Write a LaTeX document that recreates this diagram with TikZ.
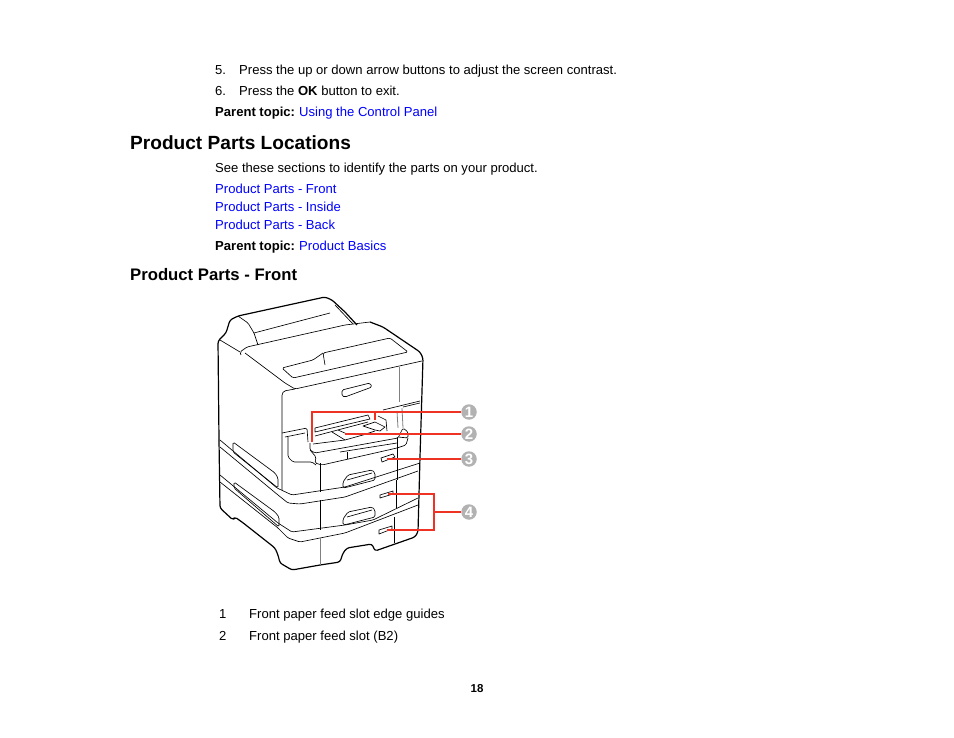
\documentclass[tikz,border=0pt]{standalone}
\usepackage{fontspec}
\setmainfont{Liberation Sans}
\definecolor{linkblue}{RGB}{0,0,255}
\definecolor{leader}{RGB}{238,50,36}
\definecolor{badge}{RGB}{178,178,178}
\tikzset{
  txt/.style={anchor=base west,inner sep=0pt,font=\fontsize{13.07}{15}\selectfont},
  lnk/.style={txt,text=linkblue},
  hone/.style={anchor=base west,inner sep=0pt,font=\fontsize{19.1}{24}\selectfont\bfseries},
  htwo/.style={anchor=base west,inner sep=0pt,font=\fontsize{16.7}{20}\selectfont\bfseries},
  pno/.style={anchor=base,inner sep=0pt,font=\fontsize{11.5}{13}\selectfont\bfseries},
  thin line/.style={draw=black,line width=0.65pt,line join=round,rounded corners=1.5pt},
  sharp line/.style={draw=black,line width=0.65pt,line join=round},
  out line/.style={draw=black,line width=1.2pt,line join=round,rounded corners=2.5pt},
  gray line/.style={draw=black!50,line width=0.8pt},
  lead/.style={draw=leader,line width=1.3pt},
  callout/.style={circle,fill=badge,text=white,minimum size=15.5pt,inner sep=0pt,font=\fontsize{15}{15}\selectfont\bfseries},
}
\begin{document}
\begin{tikzpicture}[x=1pt,y=-1pt]
\useasboundingbox (0,0) rectangle (954,738);
% texts
\node[txt] (t5) at (215,75) {5.};
\node[txt] (t5b) at (239,75) {Press the up or down arrow buttons to adjust the screen contrast.};
\node[txt] (t6) at (215,96) {6.};
\node[txt] (t6b) at (239,96) {Press the \textbf{OK} button to exit.};
\node[txt] (p1) at (215,117) {\textbf{Parent topic:}};
\node[lnk] (p1l) at (299,117) {Using the Control Panel};
\node[hone] (h1) at (130,150) {Product Parts Locations};
\node[txt] (see) at (215,173) {See these sections to identify the parts on your product.};
\node[lnk] (l1) at (215,194) {Product Parts - Front};
\node[lnk] (l2) at (215,212) {Product Parts - Inside};
\node[lnk] (l3) at (215,230) {Product Parts - Back};
\node[txt] (p2) at (215,251) {\textbf{Parent topic:}};
\node[lnk] (p2l) at (299,251) {Product Basics};
\node[htwo] (h2) at (130,281) {Product Parts - Front};
\node[txt] (c1) at (219,618) {1};
\node[txt] (c1b) at (249,618) {Front paper feed slot edge guides};
\node[txt] (c2) at (219,640) {2};
\node[txt] (c2b) at (249,640) {Front paper feed slot (B2)};
\node[pno] (pg) at (477,692) {18};
% printer: outer contour
\draw[out line] (219,440) -- (218,341) -- (226,333) -- (230,320) -- (238,316) -- (325,297) -- (332,300) -- (345,312);
\draw[out line] (345,312) -- (357,325);
\draw[out line] (370,322) -- (383,327) -- (420,352) -- (423,358) -- (420,457) -- (418,532) -- (415,537) -- (375,551) -- (372,544) -- (347,548) -- (343,553) -- (340,562) -- (320,565) -- (292,570) -- (280,563) -- (278,555) -- (275,548) -- (242,522) -- (239,520) -- (235,517) -- (233,520) -- (220,508) -- (219,440);
% top hood
\draw[thin line] (238,316) -- (248,323) -- (254,333) -- (258,345);
\draw[thin line] (254,333) -- (330,313);
\draw[thin line] (335,305) -- (353,324);
\draw[thin line] (241,355) -- (240,352) -- (247,347) -- (345,325) -- (370,322);
\draw[thin line] (220,340) -- (240,352);
\draw[thin line] (245,353) -- (285,383) -- (295,389) -- (345,378) -- (422,361);
% top handle
\draw[thin line] (323,353) -- (313,360) -- (282,368) -- (293,378) -- (408,352) -- (390,338) -- (323,353) -- (325,365);
% upper panel
\draw[thin line] (295,389) -- (284,391) -- (282,394) -- (282,490);
\draw[thin line] (342,390) -- (370,383) -- (372,387) -- (345,397) -- (342,396) -- cycle;
\draw[gray line] (399,367) -- (399,402);
\draw[thin line] (383,410) -- (420,401);
\draw[thin line] (403,407) -- (420,403);
\draw[gray line] (397,411) -- (398,428);
\draw[gray line] (402,408) -- (403,428);
% feed slot
\draw[thin line] (282,433) -- (307,428) -- (308,442);
\draw[thin line] (285,437) -- (305,433);
\draw[sharp line] (315,428) -- (368,415) -- (370,419) -- (315,432) -- cycle;
\draw[sharp line] (315,436) -- (368,422);
\draw[sharp line] (332,432) -- (345,440);
\draw[sharp line] (338,430) -- (347,434);
\draw[sharp line] (313,444) -- (345,440) -- (363,435) -- (375,431);
\draw[sharp line] (363,426) -- (375,422) -- (385,427) -- (380,431) -- (375,430) -- cycle;
\draw[sharp line] (378,416) -- (386,420) -- (387,431);
\draw[thin line] (310,450) -- (315,453) -- (398,438) -- (403,428) -- (408,432) -- (408,438) -- (398,437);
\draw[thin line] (310,443) -- (310,450) -- (316,457) -- (315,463) -- (322,465) -- (397,448) -- (406,445) -- (408,438);
\draw[thin line] (288,437) -- (288,457) -- (293,462) -- (312,462) -- (316,465);
\draw[sharp line] (340,452) -- (397,443);
\draw[sharp line] (347,459) -- (347,452);
% tiers
\draw[thin line] (220,440) -- (277,488) -- (292,495) -- (345,487) -- (420,463);
\draw[thin line] (220,447) -- (278,495) -- (288,503) -- (300,504) -- (345,497) -- (418,471);
\draw[thin line] (220,475) -- (278,523) -- (292,532) -- (345,525) -- (373,520) -- (418,498);
\draw[thin line] (220,482) -- (278,528) -- (288,538) -- (300,542) -- (345,533) -- (418,505);
% side grips
\draw[thin line] (233,442) -- (275,473) -- (278,478) -- (278,488) -- (233,452) -- cycle;
\draw[thin line] (234,482) -- (275,512) -- (279,517) -- (279,527) -- (234,488) -- cycle;
% verticals
\draw[thin line] (320,463) -- (320,492);
\draw[thin line] (320,500) -- (320,530);
\draw[gray line] (320,538) -- (320,565);
\draw[thin line] (397,438) -- (397,480);
\draw[thin line] (396,480) -- (396,508);
\draw[thin line] (394,517) -- (394,543);
% tray handles
\draw[thin line] (343,488) -- (343,482) -- (348,475) -- (372,470) -- (375,473) -- (375,480) -- (348,487) -- cycle;
\draw[thin line] (347,480) -- (372,473);
\draw[thin line] (343,525) -- (343,519) -- (348,512) -- (372,507) -- (375,510) -- (375,517) -- (348,524) -- cycle;
\draw[thin line] (347,517) -- (372,510);
% tray slots
\draw[sharp line] (381,458) -- (393,454) -- (395,457) -- (382,462) -- cycle;
\draw[sharp line] (380,495) -- (393,491) -- (393,494) -- (380,498) -- cycle;
\draw[sharp line] (379,530) -- (392,526) -- (392,529) -- (379,534) -- cycle;
% callouts
\node[callout] (n1) at (469,412) {1};
\node[callout] (n2) at (469,434) {2};
\node[callout] (n3) at (469,459) {3};
\node[callout] (n4) at (469,512) {4};
\coordinate (g1) at (312,442);
\coordinate (g1b) at (375,420);
\coordinate (g2) at (345,434);
\coordinate (g3) at (387,459);
\coordinate (g4a) at (388,494);
\coordinate (g4b) at (387,530);
\coordinate (g4m) at (434,512);
\draw[lead] (n1) -- (312,412) -- (g1);
\draw[lead] (375,412) -- (g1b);
\draw[lead] (n2) -- (g2);
\draw[lead] (n3) -- (g3);
\draw[lead] (n4) -- (g4m);
\draw[lead] (g4a) -- (434,494) -- (434,530) -- (g4b);
\end{tikzpicture}
\end{document}
